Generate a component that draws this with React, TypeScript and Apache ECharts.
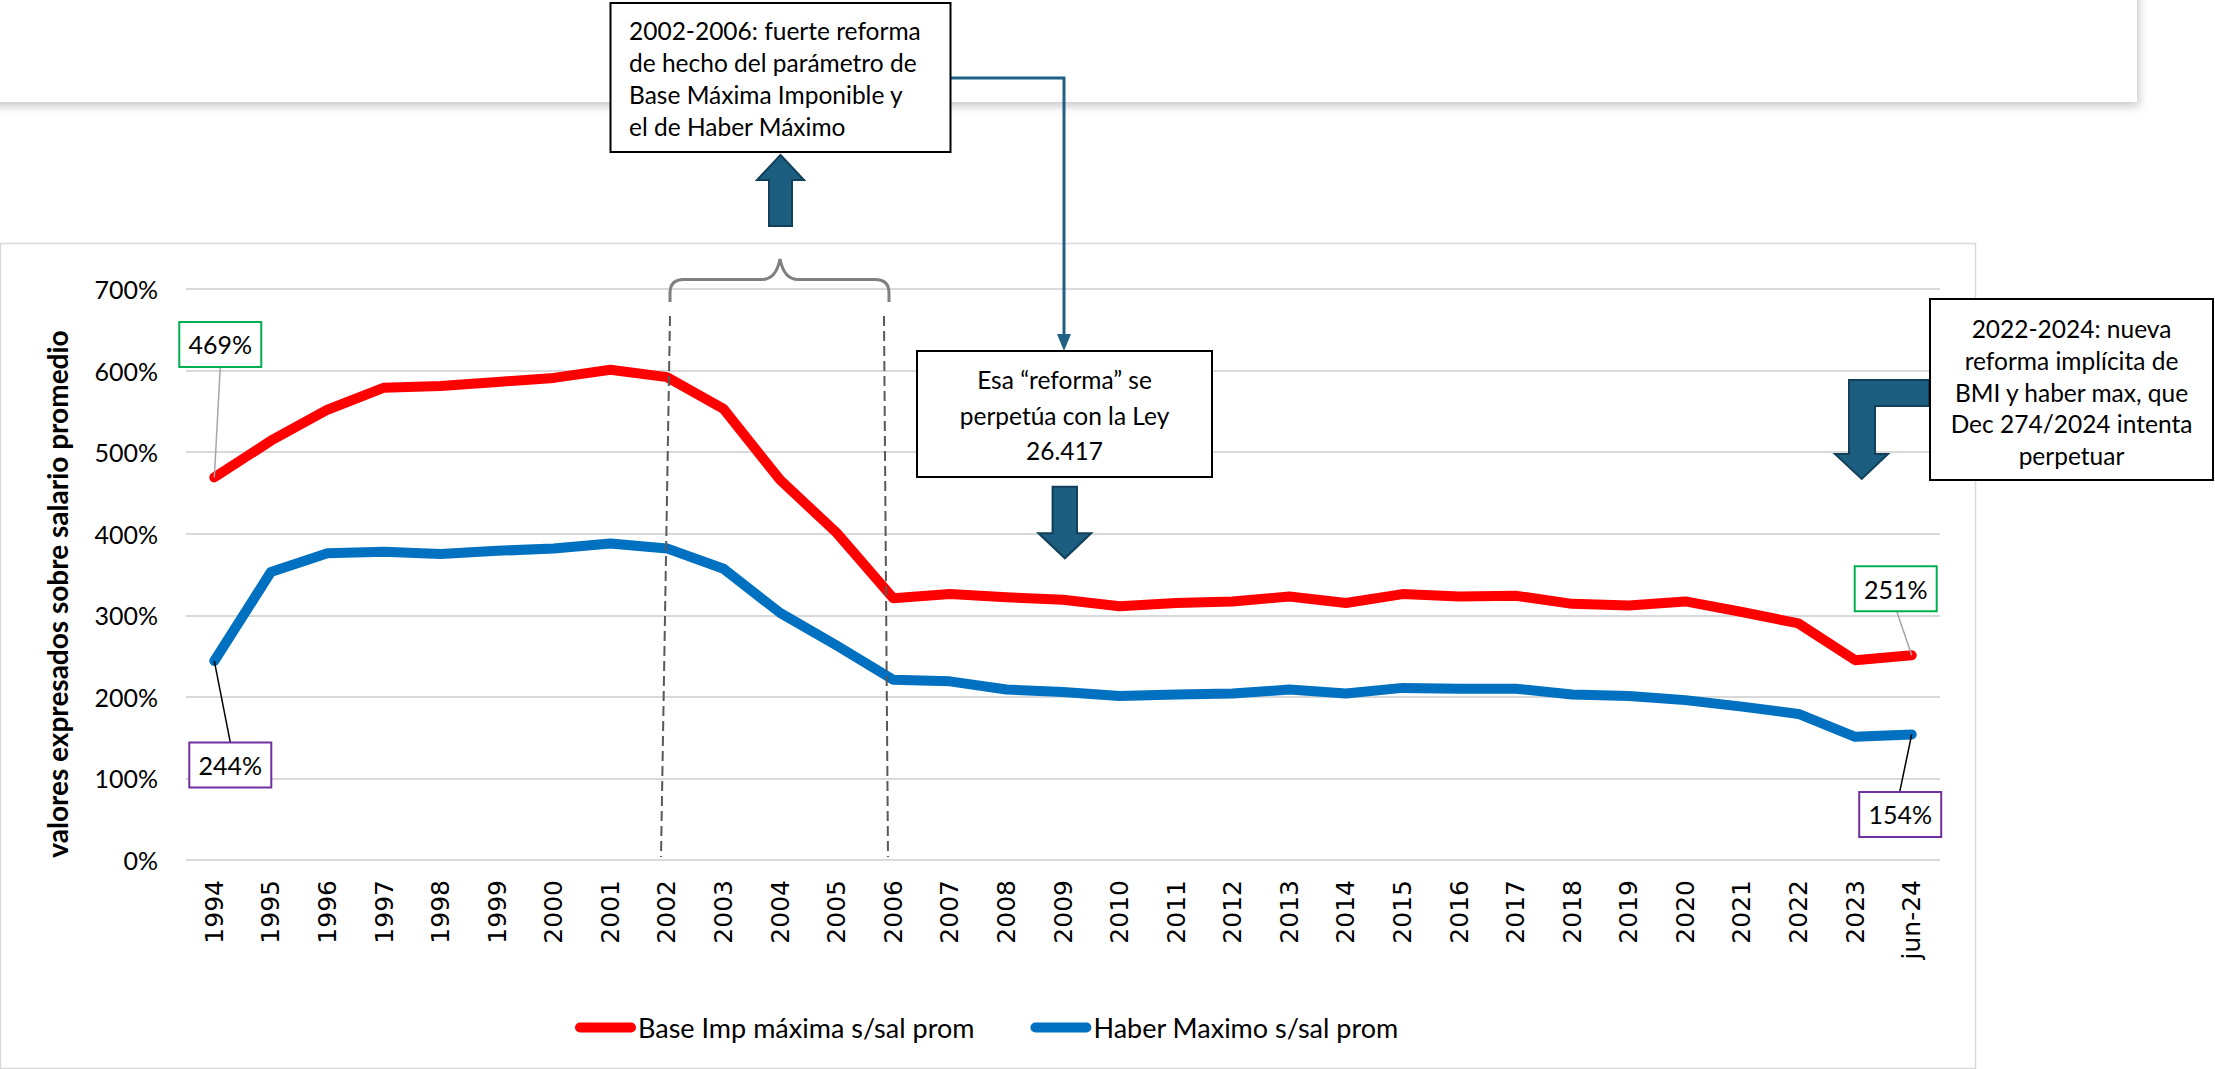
import React, { useEffect, useRef } from "react";
import * as echarts from "echarts";

const categories = [
  "1994", "1995", "1996", "1997", "1998", "1999", "2000", "2001", "2002", "2003",
  "2004", "2005", "2006", "2007", "2008", "2009", "2010", "2011", "2012", "2013",
  "2014", "2015", "2016", "2017", "2018", "2019", "2020", "2021", "2022", "2023", "jun-24",
];
const baseImpMax = [
  469, 514, 552, 579, 581, 586, 591, 601, 592, 553,
  466, 401, 321, 326, 322, 319, 311, 315, 317, 323,
  315, 326, 323, 324, 314, 312, 317, 304, 290, 245, 251,
];
const haberMax = [
  244, 353, 376, 378, 375, 379, 382, 388, 382, 357,
  303, 263, 221, 219, 209, 206, 201, 203, 204, 209,
  204, 211, 210, 210, 203, 201, 196, 188, 179, 151, 154,
];
const seriesNames = ["Base Imp máxima s/sal prom", "Haber Maximo s/sal prom"];
const yAxisTitle = "valores expresados sobre salario promedio";
const note2002 = ["2002-2006: fuerte reforma", "de hecho del parámetro de", "Base Máxima Imponible y", "el de Haber Máximo"];
const noteLey = ["Esa “reforma” se", "perpetúa con la Ley", "26.417"];
const note2022 = ["2022-2024: nueva", "reforma implícita de", "BMI y haber max, que", "Dec 274/2024 intenta", "perpetuar"];

const RED = "#FF0000";
const BLUE = "#0070C0";
const ARROW_FILL = "#1B5E80";
const ARROW_STROKE = "#123F5A";
const FONT = "Lato";

const braceD =
  "M670,302 L670,293 Q670,279.5 684,279.5 L762,279.5 Q776,279.5 780,259 Q784,279.5 798,279.5 L875,279.5 Q889,279.5 889,293 L889,302";

export default function App() {
  const ref = useRef<HTMLDivElement>(null);
  useEffect(() => {
    document.body.style.margin = "0";
    echarts.graphic.registerShape("brace", echarts.graphic.extendPath(braceD, {}));
    const chart = echarts.init(ref.current!, null, { renderer: "svg" });
    const option: any = {
      animation: false,
      backgroundColor: "#ffffff",
      grid: { left: 186, right: 275, top: 289, bottom: 209, containLabel: false },
      legend: {
        left: 575,
        top: 1014,
        padding: 0,
        itemWidth: 61,
        itemHeight: 10,
        itemGap: 56,
        icon: "path://M5,0 L56,0 A5,5 0 0 1 56,10 L5,10 A5,5 0 0 1 5,0 Z",
        textStyle: { fontFamily: FONT, fontSize: 27, color: "#000", padding: [0, 0, 0, -3] },
        data: seriesNames,
      },
      xAxis: {
        type: "category",
        data: categories,
        boundaryGap: true,
        axisLine: { show: false },
        axisTick: { show: false },
        axisLabel: {
          interval: 0,
          rotate: 90,
          margin: 20,
          fontFamily: "DejaVu Sans",
          fontWeight: "normal",
          fontSize: 25,
          color: "#000",
        },
      },
      yAxis: {
        type: "value",
        min: 0,
        max: 700,
        interval: 100,
        axisLine: { show: false },
        axisTick: { show: false },
        axisLabel: {
          formatter: "{value}%",
          margin: 28,
          fontFamily: FONT,
          fontSize: 25,
          color: "#000",
        },
        splitLine: { lineStyle: { color: "#D9D9D9", width: 2 } },
      },
      series: [
        {
          name: seriesNames[0],
          type: "line",
          data: baseImpMax,
          symbol: "none",
          itemStyle: { color: RED },
          lineStyle: { color: RED, width: 10, cap: "round", join: "round" },
          z: 3,
        },
        {
          name: seriesNames[1],
          type: "line",
          data: haberMax,
          symbol: "none",
          itemStyle: { color: BLUE },
          lineStyle: { color: BLUE, width: 10, cap: "round", join: "round" },
          z: 3,
        },
      ],
    };
    chart.setOption(option);

    const last = categories.length - 1;
    const labelSpecs = [
      { series: 0, data: baseImpMax, idx: 0, dx: 6, dy: -133, border: "#00B050", leader: "#A6A6A6", ax: 6, ay: 22.5 },
      { series: 1, data: haberMax, idx: 0, dx: 16, dy: 104, border: "#7030A0", leader: "#000000", ax: 16, ay: -22.5 },
      { series: 0, data: baseImpMax, idx: last, dx: -16, dy: -66.5, border: "#00B050", leader: "#A6A6A6", ax: -15, ay: 22.5 },
      { series: 1, data: haberMax, idx: last, dx: -11.5, dy: 80, border: "#7030A0", leader: "#000000", ax: -12, ay: -22.5 },
    ];
    const bw = 82;
    const bh = 45;
    const labelEls: any[] = [];
    labelSpecs.forEach((s) => {
      const p = chart.convertToPixel({ seriesIndex: s.series }, [s.idx, s.data[s.idx]]) as number[];
      const cx = p[0] + s.dx;
      const cy = p[1] + s.dy;
      labelEls.push({
        type: "line",
        z: 90,
        shape: { x1: p[0] + s.ax, y1: cy + s.ay, x2: p[0], y2: p[1] },
        style: { stroke: s.leader, lineWidth: 1.5 },
      });
      labelEls.push({
        type: "rect",
        z: 91,
        shape: { x: cx - bw / 2, y: cy - bh / 2, width: bw, height: bh },
        style: { fill: "#fff", stroke: s.border, lineWidth: 2 },
      });
      labelEls.push({
        type: "text",
        z: 92,
        x: cx,
        y: cy,
        style: {
          text: s.data[s.idx] + "%",
          fontFamily: FONT,
          fontSize: 25,
          fill: "#000",
          align: "center",
          verticalAlign: "middle",
        },
      });
    });

    const elements: any[] = [
      {
        type: "rect",
        z: -20,
        shape: { x: -20, y: -20, width: 2157, height: 122 },
        style: {
          fill: "#fff",
          shadowBlur: 10,
          shadowOffsetX: 2,
          shadowOffsetY: 4,
          shadowColor: "rgba(0,0,0,0.22)",
        },
      },
      {
        type: "rect",
        z: -10,
        shape: { x: 0.5, y: 243.5, width: 1975, height: 825 },
        style: { fill: "#fff", stroke: "#D9D9D9", lineWidth: 1.5 },
      },
      {
        type: "line",
        z: 50,
        shape: { x1: 670, y1: 316, x2: 661, y2: 857 },
        style: { stroke: "#595959", lineWidth: 2, lineDash: [10, 5] },
      },
      {
        type: "line",
        z: 50,
        shape: { x1: 884, y1: 316, x2: 888, y2: 857 },
        style: { stroke: "#595959", lineWidth: 2, lineDash: [10, 5] },
      },
      {
        type: "brace",
        z: 50,
        x: 0,
        y: 0,
        style: { stroke: "#808080", lineWidth: 3, fill: null },
      },
      {
        type: "polygon",
        z: 60,
        shape: {
          points: [
            [780.5, 155], [804, 180], [792, 180], [792, 226], [769, 226], [769, 180], [757, 180],
          ],
        },
        style: { fill: ARROW_FILL, stroke: ARROW_STROKE, lineWidth: 2 },
      },
      {
        type: "polyline",
        z: 60,
        shape: { points: [[951, 78], [1064, 78], [1064, 338]] },
        style: { stroke: "#1F6184", lineWidth: 3, fill: null },
      },
      {
        type: "polygon",
        z: 60,
        shape: { points: [[1057, 334], [1071, 334], [1064, 351]] },
        style: { fill: "#1F6184" },
      },
      {
        type: "polygon",
        z: 60,
        shape: {
          points: [
            [1052.6, 486.7], [1077, 486.7], [1077, 533.3], [1091.2, 533.3], [1064.9, 558.3],
            [1038.4, 533.3], [1052.6, 533.3],
          ],
        },
        style: { fill: ARROW_FILL, stroke: ARROW_STROKE, lineWidth: 2 },
      },
      {
        type: "polygon",
        z: 60,
        shape: {
          points: [
            [1929, 380], [1849, 380], [1849, 454], [1835, 454], [1861.7, 479], [1888, 454],
            [1875, 454], [1875, 406], [1929, 406],
          ],
        },
        style: { fill: ARROW_FILL, stroke: ARROW_STROKE, lineWidth: 2 },
      },
      {
        type: "rect",
        z: 70,
        shape: { x: 610.5, y: 3, width: 340, height: 149 },
        style: { fill: "#fff", stroke: "#000", lineWidth: 2 },
      },
      {
        type: "text",
        z: 71,
        x: 629,
        y: 78,
        style: {
          text: note2002.join("\n"),
          fontFamily: FONT,
          fontSize: 24.5,
          lineHeight: 32,
          fill: "#000",
          align: "left",
          verticalAlign: "middle",
        },
      },
      {
        type: "rect",
        z: 70,
        shape: { x: 917, y: 351, width: 295, height: 126 },
        style: { fill: "#fff", stroke: "#000", lineWidth: 2 },
      },
      {
        type: "text",
        z: 71,
        x: 1064.5,
        y: 415,
        style: {
          text: noteLey.join("\n"),
          fontFamily: FONT,
          fontSize: 24.5,
          lineHeight: 35.5,
          fill: "#000",
          align: "center",
          verticalAlign: "middle",
        },
      },
      {
        type: "rect",
        z: 70,
        shape: { x: 1930, y: 299, width: 283, height: 181 },
        style: { fill: "#fff", stroke: "#000", lineWidth: 2 },
      },
      {
        type: "text",
        z: 71,
        x: 2071.5,
        y: 392,
        style: {
          text: note2022.join("\n"),
          fontFamily: FONT,
          fontSize: 24.5,
          lineHeight: 31.7,
          fill: "#000",
          align: "center",
          verticalAlign: "middle",
        },
      },
      {
        type: "text",
        z: 71,
        x: 57,
        y: 594,
        rotation: Math.PI / 2,
        style: {
          text: yAxisTitle,
          fontFamily: FONT,
          fontWeight: "bold",
          fontSize: 28,
          fill: "#000",
          align: "center",
          verticalAlign: "middle",
        },
      },
      ...labelEls,
    ];
    chart.setOption({ graphic: { elements } });
    return () => chart.dispose();
  }, []);
  return <div ref={ref} style={{ width: 2215, height: 1069 }} />;
}
